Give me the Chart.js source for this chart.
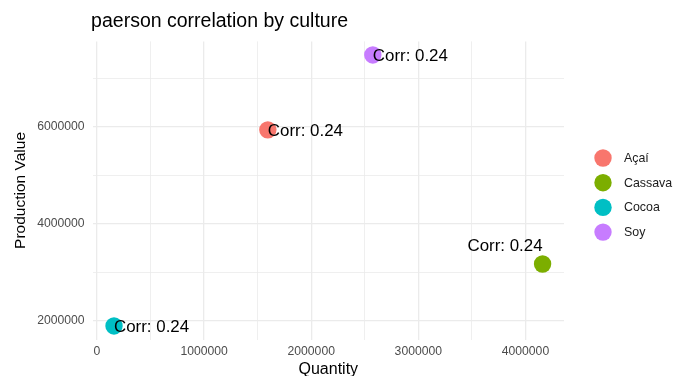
<!DOCTYPE html>
<html>
<head>
<meta charset="utf-8">
<script src="https://cdn.jsdelivr.net/npm/chart.js@4"></script>
<style>
  html, body { margin: 0; padding: 0; background: #ffffff; }
  #wrap { width: 673px; height: 376px; position: relative; }
</style>
</head>
<body>
<div id="wrap"><canvas id="c" width="673" height="376"></canvas></div>
<script>
// ---- data ----
const chartTitle = 'paerson correlation by culture';
const cultures = ['Açaí', 'Cassava', 'Cocoa', 'Soy'];
const quantity = [1595000, 4160000, 159000, 2575000];
const productionValue = [5940000, 3175000, 1897000, 7485000];
const corrLabels = ['Corr: 0.24', 'Corr: 0.24', 'Corr: 0.24', 'Corr: 0.24'];
const colors = ['#F8766D', '#7CAE00', '#00BFC4', '#C77CFF'];
const xMajorTicks = [0, 1000000, 2000000, 3000000, 4000000];
const xTickLabels = ['0', '1000000', '2000000', '3000000', '4000000'];
const xMinorTicks = [500000, 1500000, 2500000, 3500000];
const yMajorTicks = [2000000, 4000000, 6000000];
const yTickLabels = ['2000000', '4000000', '6000000'];
const yMinorTicks = [3000000, 5000000, 7000000];
const xTitle = 'Quantity';
const yTitle = 'Production Value';

const FONT = "'Liberation Sans', Arial, Helvetica, sans-serif";
// label placement per culture: 'right' = text starts at point; 'aboveLeft' = text ends at point, above it
const labelPlacement = ['right', 'aboveLeft', 'right', 'right'];

function buildTicks(major, minor) {
  return major.concat(minor).sort((a, b) => a - b).map(v => ({ value: v }));
}
function majorLabel(major, labels, v) {
  const i = major.indexOf(v);
  return i >= 0 ? labels[i] : '';
}

const datasets = cultures.map((c, i) => ({
  label: c,
  data: [{ x: quantity[i], y: productionValue[i] }],
  backgroundColor: colors[i],
  borderColor: colors[i],
  borderWidth: 0,
  pointRadius: 8.7,
  pointHoverRadius: 8.7
}));

const extrasPlugin = {
  id: 'extras',
  afterDatasetsDraw(chart) {
    const ctx = chart.ctx;
    const xs = chart.scales.x, ys = chart.scales.y;
    ctx.save();
    ctx.fillStyle = '#000000';
    ctx.font = '16.9px ' + FONT;
    cultures.forEach((c, i) => {
      const px = xs.getPixelForValue(quantity[i]);
      const py = ys.getPixelForValue(productionValue[i]);
      if (labelPlacement[i] === 'aboveLeft') {
        ctx.textAlign = 'right';
        ctx.textBaseline = 'middle';
        ctx.fillText(corrLabels[i], px, py - 18);
      } else {
        ctx.textAlign = 'left';
        ctx.textBaseline = 'middle';
        ctx.fillText(corrLabels[i], px, py + 1);
      }
    });
    ctx.restore();
  },
  afterDraw(chart) {
    const ctx = chart.ctx;
    const area = chart.chartArea;
    ctx.save();
    // title
    ctx.fillStyle = '#000000';
    ctx.font = '19.5px ' + FONT;
    ctx.textAlign = 'left';
    ctx.textBaseline = 'middle';
    ctx.fillText(chartTitle, area.left - 1.5, 22);
    // legend
    ctx.font = '12.4px ' + FONT;
    cultures.forEach((c, i) => {
      const cy = 158 + i * 24.7;
      ctx.beginPath();
      ctx.arc(603, cy, 8.7, 0, Math.PI * 2);
      ctx.fillStyle = colors[i];
      ctx.fill();
      ctx.fillStyle = '#1a1a1a';
      ctx.textAlign = 'left';
      ctx.textBaseline = 'middle';
      ctx.fillText(c, 624, cy + 0.5);
    });
    ctx.restore();
  }
};

new Chart(document.getElementById('c'), {
  type: 'scatter',
  data: { datasets },
  options: {
    responsive: false,
    animation: false,
    events: [],
    layout: { padding: { top: 41.4, right: 109, bottom: 0, left: 0 } },
    plugins: { legend: { display: false }, tooltip: { enabled: false }, title: { display: false } },
    scales: {
      x: {
        type: 'linear',
        min: -41000,
        max: 4360000,
        afterBuildTicks(scale) { scale.ticks = buildTicks(xMajorTicks, xMinorTicks); },
        afterFit(scale) { scale.height = 36.5; },
        ticks: {
          autoSkip: false,
          maxRotation: 0,
          padding: 5,
          color: '#4D4D4D',
          font: { family: FONT, size: 12.2 },
          callback: (v) => majorLabel(xMajorTicks, xTickLabels, v)
        },
        grid: {
          drawTicks: false,
          tickLength: 0,
          color: '#EBEBEB',
          lineWidth: (ctx) => (ctx.tick && xMajorTicks.includes(ctx.tick.value)) ? 1.3 : 0.8
        },
        border: { display: false },
        title: {
          display: true,
          text: xTitle,
          color: '#000000',
          font: { family: FONT, size: 16 },
          padding: { top: 0, bottom: -3.5 }
        }
      },
      y: {
        type: 'linear',
        min: 1618000,
        max: 7764000,
        afterBuildTicks(scale) { scale.ticks = buildTicks(yMajorTicks, yMinorTicks); },
        afterFit(scale) { scale.width = 92.6; },
        ticks: {
          autoSkip: false,
          padding: 8,
          color: '#4D4D4D',
          font: { family: FONT, size: 12.2 },
          callback: (v) => majorLabel(yMajorTicks, yTickLabels, v)
        },
        grid: {
          drawTicks: false,
          tickLength: 0,
          color: '#EBEBEB',
          lineWidth: (ctx) => (ctx.tick && yMajorTicks.includes(ctx.tick.value)) ? 1.3 : 0.8
        },
        border: { display: false },
        title: {
          display: true,
          text: yTitle,
          color: '#000000',
          font: { family: FONT, size: 15.5 },
          padding: { top: 11, bottom: 0 }
        }
      }
    }
  },
  plugins: [extrasPlugin]
});
</script>
</body>
</html>
